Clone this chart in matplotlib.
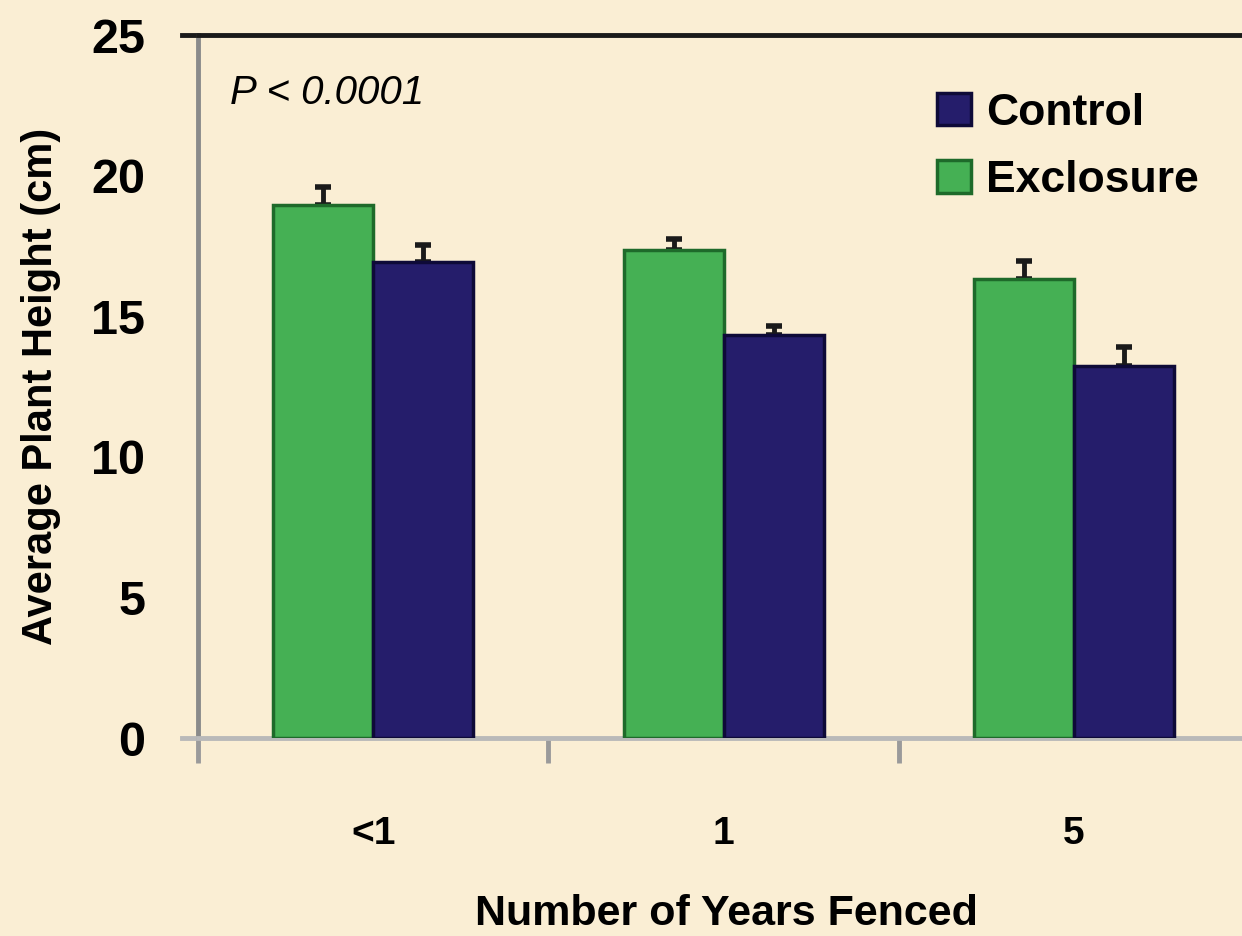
import numpy as np
import matplotlib.pyplot as plt

years = ['<1', '1', '5']
exclosure = [18.95, 17.35, 16.32]
exclosure_err = [0.65, 0.38, 0.64]
control = [16.94, 14.33, 13.23]
control_err = [0.59, 0.32, 0.69]
yticks = [0, 5, 10, 15, 20, 25]

bg = '#FAEED4'
green = '#45B054'
navy = '#251D6B'

fig = plt.figure(figsize=(12.42, 9.36), dpi=100, facecolor=bg)
ax = fig.add_axes([0.1594, 0.2115, 0.8465, 0.7511])
ax.set_facecolor(bg)

x = np.arange(len(years))
w = 0.285
bar_kw = dict(width=w, linewidth=2.5, zorder=3)
ax.bar(x - w / 2, exclosure, color=green, edgecolor='#1E6A2A', label='Exclosure', **bar_kw)
ax.bar(x + w / 2, control, color=navy, edgecolor='#0E0A38', label='Control', **bar_kw)

err_kw = dict(fmt='none', ecolor='#1a1a1a', elinewidth=3.5, capsize=6, capthick=4, zorder=2)
ax.errorbar(x - w / 2, exclosure, yerr=[np.zeros(3), exclosure_err], **err_kw)
ax.errorbar(x + w / 2, control, yerr=[np.zeros(3), control_err], **err_kw)

ax.set_xlim(-0.5, 2.5)
ax.set_ylim(0, 25)

# spines
ax.spines['right'].set_visible(False)
ax.spines['left'].set_color('#8a8a8a')
ax.spines['left'].set_linewidth(3.5)
ax.spines['bottom'].set_color('#b9b9b9')
ax.spines['bottom'].set_linewidth(3.5)
ax.spines['top'].set_color('#1a1a1a')
ax.spines['top'].set_linewidth(3.5)
ax.plot([-0.015, 0], [1, 1], transform=ax.transAxes, color='#1a1a1a', lw=3.5, clip_on=False)
ax.plot([-0.015, 0], [0, 0], transform=ax.transAxes, color='#b9b9b9', lw=3.5, clip_on=False)

ax.set_yticks(yticks)
ax.tick_params(axis='y', length=0, pad=38)
ax.set_xticks(x)
ax.set_xticklabels(years)
ax.set_xticks([-0.5, 0.5, 1.5, 2.5], minor=True)
ax.tick_params(axis='x', which='major', length=0, pad=56)
ax.tick_params(axis='x', which='minor', length=18, width=3.5, color='#9a9a9a', direction='out')

lab_font = dict(family='Liberation Sans', weight='bold')
for t in ax.get_yticklabels():
    t.set_fontsize(35)
    t.set_fontfamily('Liberation Sans')
    t.set_fontweight('bold')
for t in ax.get_xticklabels():
    t.set_fontsize(28)
    t.set_fontfamily('Liberation Sans')
    t.set_fontweight('bold')

ax.set_ylabel('Average Plant Height (cm)', fontsize=30, labelpad=22, **lab_font)
fig.text(0.585, 0.024, 'Number of Years Fenced', fontsize=31, ha='center', va='center', **lab_font)

ax.text(0.03, 0.918, 'P < 0.0001', transform=ax.transAxes, fontsize=29,
        style='italic', family='Liberation Sans', va='center', ha='left')

handles, labels = ax.get_legend_handles_labels()
leg = ax.legend(handles[::-1], labels[::-1], loc='upper right', bbox_to_anchor=(0.99, 0.975),
                frameon=False, prop=dict(family='Liberation Sans', weight='bold', size=32),
                handlelength=0.75, handleheight=0.75, handletextpad=0.35, labelspacing=0.6)

fig.savefig('out.png', dpi=100, facecolor=bg)
